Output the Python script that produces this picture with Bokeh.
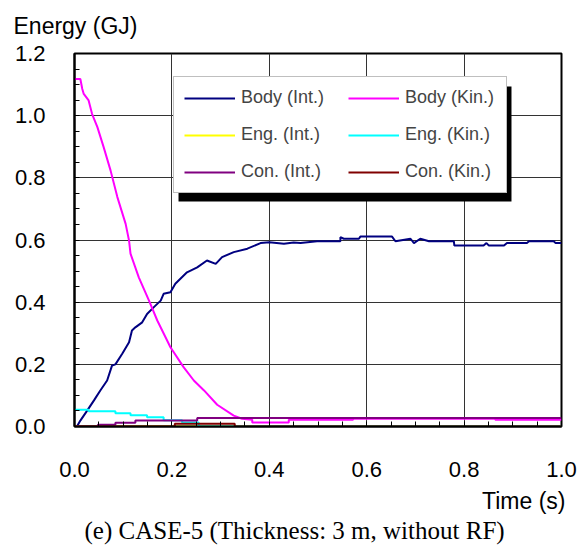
from bokeh.plotting import figure
from bokeh.models import (FixedTicker, Legend, LegendItem, Title, BoxAnnotation, Range1d)
from bokeh.embed import file_html
from bokeh.resources import INLINE

# ---------------- data ----------------
t_body_int = [0.005, 0.012, 0.026, 0.040, 0.053, 0.067, 0.077, 0.084, 0.098, 0.112, 0.118, 0.125,
              0.139, 0.149, 0.163, 0.177, 0.183, 0.197, 0.207, 0.231, 0.252, 0.272, 0.290, 0.303,
              0.327, 0.355, 0.382, 0.400, 0.430, 0.450, 0.464, 0.498, 0.546, 0.546, 0.553, 0.584,
              0.587, 0.652, 0.659, 0.690, 0.697, 0.710, 0.728, 0.779, 0.780, 0.840, 0.846, 0.851,
              0.882, 0.888, 0.929, 0.933, 0.984, 0.988, 1.000]
e_body_int = [0.000, 0.019, 0.051, 0.084, 0.116, 0.148, 0.196, 0.200, 0.234, 0.271, 0.309, 0.319,
              0.335, 0.362, 0.384, 0.405, 0.427, 0.432, 0.459, 0.496, 0.512, 0.534, 0.523, 0.545,
              0.561, 0.572, 0.590, 0.593, 0.588, 0.592, 0.590, 0.596, 0.596, 0.609, 0.604, 0.604,
              0.611, 0.611, 0.596, 0.604, 0.590, 0.604, 0.596, 0.596, 0.582, 0.582, 0.590, 0.582,
              0.582, 0.590, 0.590, 0.596, 0.596, 0.590, 0.590]

t_body_kin = [0.000, 0.012, 0.016, 0.019, 0.029, 0.036, 0.047, 0.060, 0.074, 0.088, 0.105, 0.112,
              0.115, 0.132, 0.153, 0.170, 0.197, 0.224, 0.245, 0.266, 0.293, 0.327, 0.344, 0.365,
              0.365, 0.440, 0.440, 0.572, 0.572, 0.864, 0.864, 1.000]
e_body_kin = [1.118, 1.118, 1.086, 1.070, 1.049, 1.006, 0.963, 0.898, 0.824, 0.738, 0.652, 0.598,
              0.556, 0.480, 0.405, 0.341, 0.255, 0.191, 0.148, 0.116, 0.070, 0.035, 0.025, 0.0215,
              0.013, 0.013, 0.0215, 0.0215, 0.025, 0.025, 0.0215, 0.0215]

t_eng_int = [0.0, 1.0]
e_eng_int = [0.0, 0.0]

t_eng_kin = [0.000, 0.029, 0.029, 0.084, 0.084, 0.115, 0.115, 0.149, 0.149, 0.183, 0.183, 0.221,
             0.221, 0.255, 0.255, 1.000]
e_eng_kin = [0.054, 0.054, 0.049, 0.049, 0.043, 0.043, 0.036, 0.036, 0.030, 0.030, 0.020, 0.020,
             0.013, 0.013, 0.000, 0.000]

t_con_int = [0.000, 0.048, 0.048, 0.084, 0.084, 0.125, 0.125, 0.252, 0.252, 1.000]
e_con_int = [0.000, 0.000, 0.0055, 0.0055, 0.012, 0.012, 0.019, 0.019, 0.027, 0.027]

t_con_kin = [0.000, 0.206, 0.206, 0.329, 0.329, 1.000]
e_con_kin = [0.000, 0.000, 0.009, 0.009, 0.000, 0.000]

series_names = ["Body (Int.)", "Body (Kin.)", "Eng. (Int.)", "Eng. (Kin.)", "Con. (Int.)", "Con. (Kin.)"]
series_colors = ["#000080", "#FF00FF", "#FFFF00", "#00FFFF", "#800080", "#800000"]

x_ticks = [0.0, 0.2, 0.4, 0.6, 0.8, 1.0]
x_tick_labels = ["0.0", "0.2", "0.4", "0.6", "0.8", "1.0"]
y_ticks = [0.0, 0.2, 0.4, 0.6, 0.8, 1.0, 1.2]
y_tick_labels = ["0.0", "0.2", "0.4", "0.6", "0.8", "1.0", "1.2"]
x_minor = [round(0.05 * i, 2) for i in range(21)]
y_minor = [round(0.05 * i, 2) for i in range(25)]

y_title = "Energy (GJ)"
x_title = "Time (s)"
caption = "(e) CASE-5 (Thickness: 3 m, without RF)"

FONT = "Liberation Sans"

p = figure(output_backend="svg", toolbar_location=None,
           x_range=Range1d(0, 1), y_range=Range1d(0, 1.2),
           frame_width=487, frame_height=373,
           min_border_left=74, min_border_top=53, min_border_right=20, min_border_bottom=120,
           background_fill_color="white", border_fill_color="white")

p.outline_line_color = "black"
p.outline_line_width = 2

for ax, ticks, minor, labels in ((p.xaxis[0], x_ticks, x_minor, x_tick_labels),
                                 (p.yaxis[0], y_ticks, y_minor, y_tick_labels)):
    ax.ticker = FixedTicker(ticks=ticks, minor_ticks=minor)
    ax.major_label_overrides = {v: s for v, s in zip(ticks, labels)}
    ax.axis_line_color = "black"
    ax.axis_line_width = 2
    ax.major_tick_in = 0
    ax.major_tick_out = 0
    ax.minor_tick_in = 5
    ax.minor_tick_out = 0
    ax.minor_tick_line_color = "black"
    ax.major_label_text_font = FONT
    ax.major_label_text_font_size = "22px"
    ax.major_label_text_color = "black"

p.xaxis.major_label_standoff = 35
p.yaxis.major_label_standoff = 29

p.xgrid.ticker = FixedTicker(ticks=x_ticks)
p.ygrid.ticker = FixedTicker(ticks=y_ticks)
p.grid.grid_line_color = "#333333"
p.grid.grid_line_width = 1

data = [(t_body_int, e_body_int), (t_body_kin, e_body_kin), (t_eng_int, e_eng_int),
        (t_eng_kin, e_eng_kin), (t_con_int, e_con_int), (t_con_kin, e_con_kin)]
renderers = []
for (tx, ey), c in zip(data, series_colors):
    r = p.line(tx, ey, line_color=c, line_width=2)
    renderers.append(r)

# legend shadow
shadow = BoxAnnotation(left=0.2136, right=0.8973, top=1.0938, bottom=0.7239,
                       fill_color="black", fill_alpha=1.0, line_color=None)
p.add_layout(shadow)

items = [LegendItem(label=n, renderers=[r]) for n, r in zip(series_names, renderers)]
order = [0, 2, 4, 1, 3, 5]   # legend fills column by column
legend = Legend(items=[items[i] for i in order], ncols=2, location=(99, 233),
                label_text_font=FONT, label_text_font_size="18px",
                glyph_width=51, glyph_height=20, label_standoff=6, label_width=91,
                spacing=16, padding=10, margin=0,
                border_line_color="#808080", border_line_width=1,
                background_fill_color="white", background_fill_alpha=1.0)
p.add_layout(legend, "center")

# y-axis title at top-left
p.title.text = y_title
p.title.align = "left"
p.title.offset = -61
p.title.vertical_align = "top"
p.title.standoff = 25
p.title.text_font = FONT
p.title.text_font_size = "23px"
p.title.text_font_style = "normal"
p.title.text_color = "black"

p.add_layout(Title(text=x_title, align="right", offset=-4, vertical_align="top", standoff=16,
                   text_font=FONT, text_font_size="23px", text_font_style="normal",
                   text_color="black"), "below")
p.add_layout(Title(text=caption, align="left", offset=10, vertical_align="top", standoff=-14,
                   text_font="Liberation Serif", text_font_size="25px", text_font_style="normal",
                   text_color="black"), "below")

open("out.html", "w").write(file_html(p, INLINE))
